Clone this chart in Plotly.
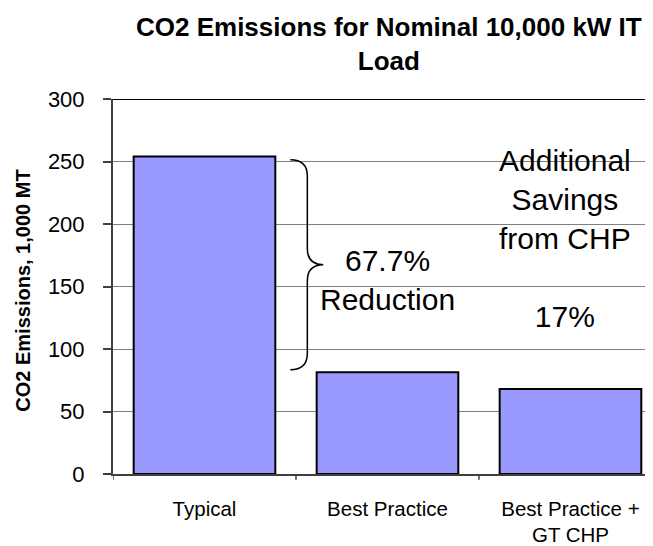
import plotly.graph_objects as go

categories = ["Typical", "Best Practice", "Best Practice +<br>GT CHP"]
emissions = [254, 81.5, 68]
y_ticks = [0, 50, 100, 150, 200, 250, 300]

title_text = "<b>CO2 Emissions for Nominal 10,000 kW IT<br>Load</b>"
y_title = "<b>CO2 Emissions, 1,000 MT</b>"
reduction_label = "67.7%<br>Reduction"
chp_label = "Additional<br>Savings<br>from CHP<br><br>17%"

FONT = "Arial, Liberation Sans, sans-serif"

fig = go.Figure()
fig.add_trace(go.Bar(
    x=list(range(len(categories))),
    y=emissions,
    marker=dict(color="#9999FF", line=dict(color="black", width=2)),
    width=0.774,
    hoverinfo="skip",
))

# curly brace between the Typical and Best Practice levels
top = emissions[0] - 2.5
bot = emissions[1] + 2
mid = (top + bot) / 2
x0, xs, xt = 0.469, 0.562, 0.649
c = 13.0
brace = (f"M {x0},{top} Q {xs},{top} {xs},{top - c} "
         f"L {xs},{mid + c} Q {xs},{mid} {xt},{mid} "
         f"Q {xs},{mid} {xs},{mid - c} "
         f"L {xs},{bot + c} Q {xs},{bot} {x0},{bot}")
fig.add_shape(type="path", path=brace, xref="x", yref="y",
              line=dict(color="black", width=1.5))

fig.add_annotation(x=1.0, y=155, xref="x", yref="y", text=reduction_label,
                   showarrow=False, font=dict(family=FONT, size=30, color="black"),
                   xanchor="center", yanchor="middle")
fig.add_annotation(x=1.97, y=188.5, xref="x", yref="y", text=chp_label,
                   showarrow=False, font=dict(family=FONT, size=30, color="black"),
                   xanchor="center", yanchor="middle")

# chart title (above plot area)
fig.add_annotation(x=0.511, y=1.147, xref="paper", yref="paper",
                   text=title_text, showarrow=False,
                   font=dict(family=FONT, size=26, color="black"),
                   xanchor="center", yanchor="middle")
# y-axis title
fig.add_annotation(x=-0.1657, y=0.4875, xref="paper", yref="paper",
                   text=y_title, showarrow=False, textangle=-90,
                   font=dict(family=FONT, size=20, color="black"),
                   xanchor="center", yanchor="middle")

fig.update_layout(
    width=645, height=538,
    margin=dict(l=105, r=0, t=91, b=72),
    paper_bgcolor="white", plot_bgcolor="white",
    showlegend=False,
    font=dict(family=FONT, color="black"),
    xaxis=dict(
        type="linear",
        range=[-0.5, 2.451],
        tickmode="array",
        tickvals=list(range(len(categories))),
        ticktext=categories,
        showgrid=False, zeroline=False,
        showline=True, linecolor="#404040", linewidth=2,
        ticks="", ticklabelstandoff=15,
        automargin=False,
        tickfont=dict(family=FONT, size=20.5, color="black"),
    ),
    yaxis=dict(
        range=[0, 300],
        tickmode="array", tickvals=y_ticks,
        showgrid=True, gridcolor="#808080", gridwidth=1,
        zeroline=False,
        showline=True, linecolor="#404040", linewidth=2,
        ticks="outside", ticklen=8, tickcolor="#404040", tickwidth=1.5,
        ticklabelstandoff=14,
        automargin=False,
        tickfont=dict(family=FONT, size=22, color="black"),
    ),
)

# top border of plot area and category boundary ticks
fig.add_shape(type="line", xref="paper", yref="y", x0=0, x1=1, y0=300, y1=300,
              line=dict(color="black", width=2))
for b in [-0.5, 0.5, 1.5]:
    fig.add_shape(type="line", xref="x", yref="paper", x0=b, x1=b, y0=0, y1=-0.015,
                  line=dict(color="#404040", width=1.5))

fig.write_html("out.html")
